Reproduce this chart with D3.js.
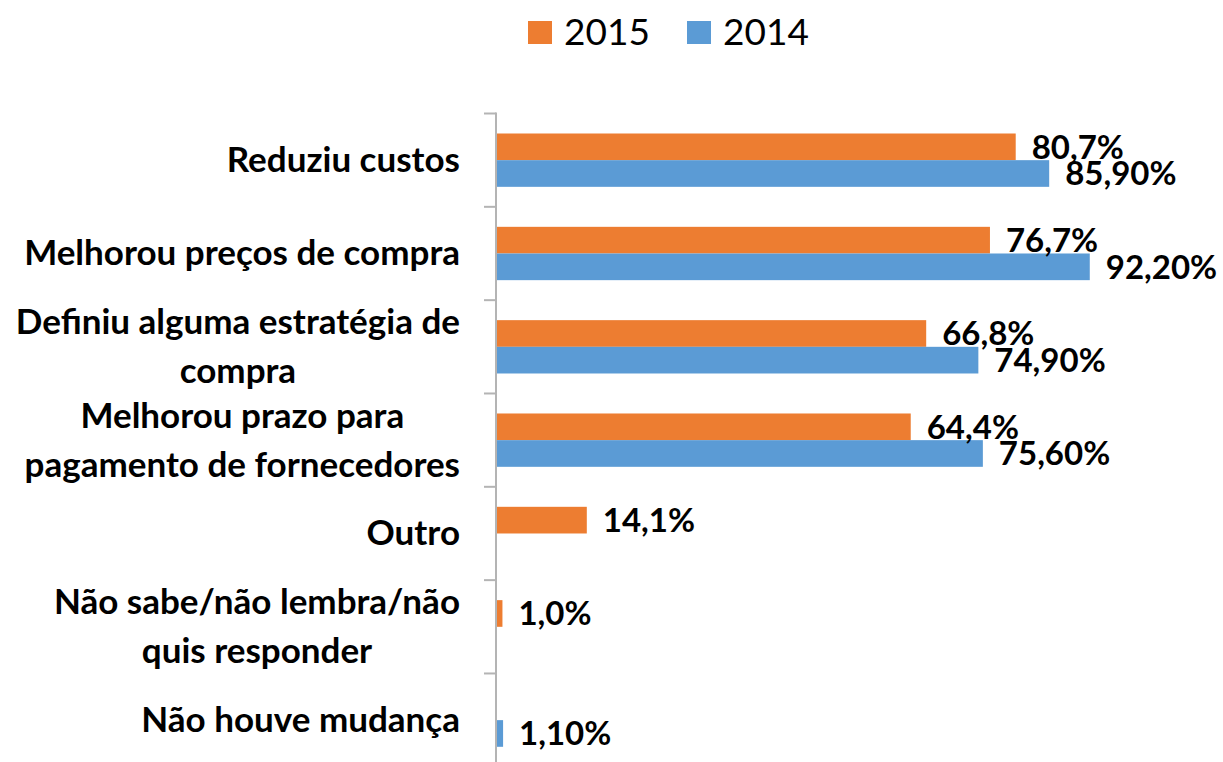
<!DOCTYPE html>
<html>
<head>
    <meta charset="utf-8">
    <title>Mudanças nas compras 2015 x 2014</title>
    <script src="https://d3js.org/d3.v7.min.js"></script>
    <style>
        body { margin: 0; background: #fff; font-family: Lato, "Open Sans", sans-serif; }
        .cat-label { font-size: 35px; font-weight: bold; fill: #000; }
        .val-label { font-size: 33px; font-weight: bold; fill: #000; }
        .legend-text { font-size: 37px; fill: #000; }
    </style>
</head>
<body>
<div id="chart"></div>
<script>
    const categories = [
        "Reduziu custos",
        "Melhorou preços de compra",
        "Definiu alguma estratégia de\ncompra",
        "Melhorou prazo para\npagamento de fornecedores",
        "Outro",
        "Não sabe/não lembra/não\nquis responder",
        "Não houve mudança"
    ];
    const seriesNames = ["2015", "2014"];
    const values2015 = [80.7, 76.7, 66.8, 64.4, 14.1, 1.0, null];
    const values2014 = [85.9, 92.2, 74.9, 75.6, null, null, 1.1];
    const colors = { "2015": "#ED7D31", "2014": "#5B9BD5" };
    const decimals = { "2015": 1, "2014": 2 };

    const width = 1223, height = 762;
    const plotLeft = 496, plotRight = 1140, plotTop = 113.5, plotBottom = 766.8;

    const svg = d3.select("#chart").append("svg")
        .attr("width", width)
        .attr("height", height);

    const x = d3.scaleLinear().domain([0, 100]).range([plotLeft, plotRight]);
    const y0 = d3.scaleBand().domain(categories).range([plotTop, plotBottom]).padding(0);
    const y1 = d3.scaleBand().domain(seriesNames).range([0, y0.bandwidth()])
        .paddingInner(0).paddingOuter(0.75);

    const rows = [];
    categories.forEach((c, i) => {
        [["2015", values2015[i]], ["2014", values2014[i]]].forEach(([s, v]) => {
            if (v != null) rows.push({ cat: c, series: s, value: v });
        });
    });

    // bars
    svg.selectAll(".bar")
        .data(rows)
        .enter()
        .append("rect")
        .attr("class", "bar")
        .attr("x", x(0))
        .attr("y", d => y0(d.cat) + y1(d.series))
        .attr("width", d => x(d.value) - x(0))
        .attr("height", y1.bandwidth())
        .attr("fill", d => colors[d.series]);

    // category axis: vertical line + ticks on band boundaries
    const axisG = svg.append("g").attr("transform", `translate(${plotLeft},0)`);
    axisG.selectAll(".tk")
        .data(categories.concat([null]))
        .enter()
        .append("line")
        .attr("x1", -12).attr("x2", 0)
        .attr("y1", (d, i) => plotTop + i * y0.step())
        .attr("y2", (d, i) => plotTop + i * y0.step())
        .attr("stroke", "#b4b4b4").attr("stroke-width", 2);
    axisG.append("line")
        .attr("x1", 0).attr("x2", 0)
        .attr("y1", plotTop - 1).attr("y2", plotBottom)
        .attr("stroke", "#b4b4b4").attr("stroke-width", 2);

    // category labels, wrapped lines centred within a block ending at x=460
    const lineH = 49;
    categories.forEach(c => {
        const lines = c.split("\n");
        const t = svg.append("text").attr("class", "cat-label").attr("text-anchor", "middle");
        const cy = y0(c) + y0.bandwidth() / 2;
        const firstBase = cy + 12 - (lines.length - 1) * lineH / 2;
        const spans = lines.map((ln, i) => t.append("tspan")
            .attr("y", firstBase + i * lineH)
            .text(ln));
        const maxW = d3.max(spans, s => s.node().getComputedTextLength());
        spans.forEach(s => s.attr("x", 460 - maxW / 2));
    });

    // value labels
    svg.selectAll(".val-label")
        .data(rows)
        .enter()
        .append("text")
        .attr("class", "val-label")
        .attr("x", d => x(d.value) + 16)
        .attr("y", d => y0(d.cat) + y1(d.series) + y1.bandwidth() / 2)
        .attr("dy", "0.36em")
        .text(d => d.value.toFixed(decimals[d.series]).replace(".", ",") + "%");

    // legend
    const legendX = { "2015": 528, "2014": 687 };
    seriesNames.forEach(s => {
        svg.append("rect")
            .attr("x", legendX[s]).attr("y", 21)
            .attr("width", 24).attr("height", 23)
            .attr("fill", colors[s]);
        svg.append("text")
            .attr("class", "legend-text")
            .attr("x", legendX[s] + 36).attr("y", 45)
            .text(s);
    });
</script>
</body>
</html>
